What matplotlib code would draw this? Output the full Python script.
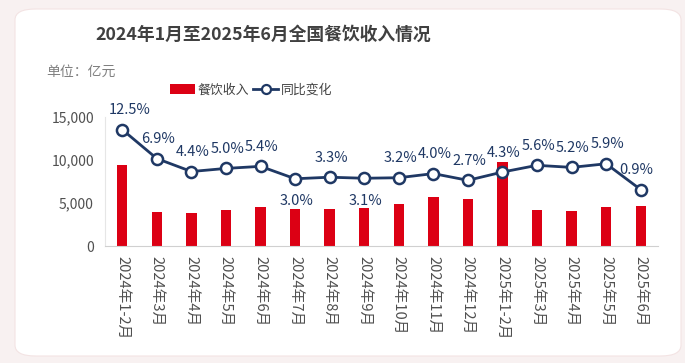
import matplotlib.pyplot as plt
from matplotlib.patches import FancyBboxPatch, Patch
from matplotlib.lines import Line2D

plt.rcParams['font.family'] = ['Noto Sans CJK SC', 'DejaVu Sans']

months = ['2024年1-2月', '2024年3月', '2024年4月', '2024年5月', '2024年6月',
          '2024年7月', '2024年8月', '2024年9月', '2024年10月', '2024年11月',
          '2024年12月', '2025年1-2月', '2025年3月', '2025年4月', '2025年5月',
          '2025年6月']
revenue = [9386, 3980, 3830, 4210, 4560, 4330, 4330, 4440, 4910, 5720,
           5490, 9780, 4210, 4100, 4560, 4680]
yoy = [12.5, 6.9, 4.4, 5.0, 5.4, 3.0, 3.3, 3.1, 3.2, 4.0, 2.7, 4.3, 5.6, 5.2, 5.9, 0.9]
below = {5, 7}  # labels drawn under the marker
nudge = {0: 5, 15: -3}  # small sideways shifts of some labels (points)

red = '#dc0014'
navy = '#1f3864'
gray = '#444444'

fig = plt.figure(figsize=(6.85, 3.63), dpi=100, facecolor='#f8f1f1')
card = FancyBboxPatch((15/685, 7/363), 666/685, 347/363,
                      boxstyle='round,pad=0,rounding_size=0.03',
                      transform=fig.transFigure, facecolor='white',
                      edgecolor='#f3e3e3', linewidth=0.8, zorder=0)
fig.patches.append(card)

ax = fig.add_axes([105/685, 1 - 246/363, 553/685, 129.3/363])
ax.set_zorder(2)
ax.patch.set_alpha(0)
x = list(range(len(months)))
ax.bar(x, revenue, width=0.3, color=red, zorder=2)
ax.set_xlim(-0.5, len(months) - 0.5)
ax.set_ylim(0, 15000)
ax.set_yticks([0, 5000, 10000, 15000])
ax.set_yticklabels(['0', '5,000', '10,000', '15,000'])
ax.set_xticks(x)
ax.set_xticklabels(months, rotation=270, va='top', ha='center')
ax.tick_params(axis='both', length=0, labelsize=10, colors='#505050')
ax.tick_params(axis='x', pad=7, labelsize=10.6)
ax.tick_params(axis='y', pad=8)
for s in ['top', 'right']:
    ax.spines[s].set_visible(False)
ax.spines['left'].set_color('#e6e6e6')
ax.spines['bottom'].set_color('#d0d0d0')

ax2 = ax.twinx()
ax2.set_zorder(3)
ax2.set_ylim(-10, 15)
ax2.axis('off')
ax2.plot(x, yoy, color=navy, linewidth=2, marker='o', markersize=8,
         markerfacecolor='white', markeredgecolor=navy, markeredgewidth=1.8,
         zorder=3)
for i, v in enumerate(yoy):
    dx = nudge.get(i, 1)
    if i in below:
        ax2.annotate(f'{v:.1f}%', (i, v), xytext=(dx, -11), textcoords='offset points',
                     ha='center', va='top', fontsize=10.5, color=navy)
    else:
        ax2.annotate(f'{v:.1f}%', (i, v), xytext=(dx, 9), textcoords='offset points',
                     ha='center', va='bottom', fontsize=10.5, color=navy,
                     annotation_clip=False)

fig.text(263/685, 1 - 35/363, '2024年1月至2025年6月全国餐饮收入情况',
         ha='center', va='center', fontsize=12.8, fontweight='bold', color='#404040')
fig.text(46/685, 1 - 72/363, '单位：亿元', ha='left', va='center',
         fontsize=10, color='#808080')

handles = [Patch(facecolor=red, edgecolor='none'),
           Line2D([], [], color=navy, linewidth=2, marker='o', markersize=6.5,
                  markerfacecolor='white', markeredgewidth=1.6)]
fig.legend(handles, ['餐饮收入', '同比变化'], loc='center',
           bbox_to_anchor=(251/685, 1 - 90/363), ncol=2, frameon=False,
           fontsize=9.3, handlelength=1.9, handleheight=0.7, handletextpad=0.2,
           columnspacing=0.35, labelcolor=gray)

fig.savefig('out.png', dpi=100, facecolor=fig.get_facecolor())
